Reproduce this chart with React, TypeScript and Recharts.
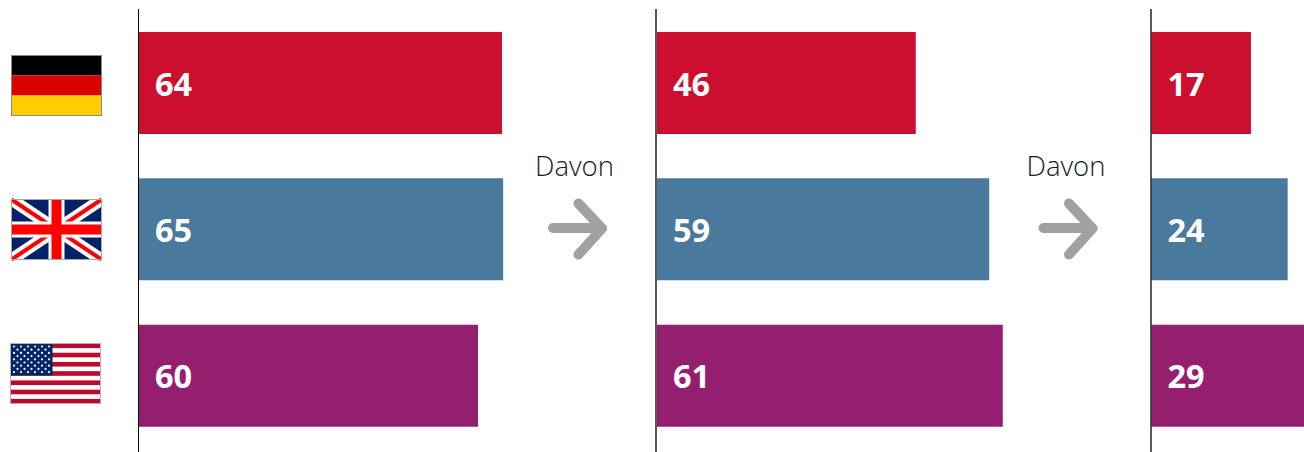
import React from "react";
import { BarChart, Bar, XAxis, YAxis, Cell, LabelList } from "recharts";

const countries = ["Deutschland", "Großbritannien", "USA"];
const colors = ["#CC0F2E", "#4A799E", "#951F6F"];
const stageOneValues = [64.25, 64.45, 60];
const stageOneLabels = ["64", "65", "60"];
const stageTwoValues = [45.8, 58.8, 61.2];
const stageTwoLabels = ["46", "59", "61"];
const stageThreeValues = [17.6, 24.1, 29];
const stageThreeLabels = ["17", "24", "29"];
const connectorLabel = "Davon";

const AXIS_MAX = 70;
const PX_PER_UNIT = 5.65;
const FONT = "'Open Sans', sans-serif";

const rows = (values: number[], labels: string[]) =>
  countries.map((country, i) => ({ country, value: values[i], label: labels[i] }));

function Germany({ x, y }: { x: number; y: number }) {
  return (
    <g transform={`translate(${x},${y})`}>
      <rect width={90} height={20} fill="#000000" />
      <rect y={20} width={90} height={20} fill="#DD0000" />
      <rect y={40} width={90} height={20} fill="#FFCE00" />
      <rect x={0} y={0} width={90} height={60} fill="none" stroke="#8A8A8A" strokeWidth={1} />
    </g>
  );
}

function UnitedKingdom({ x, y }: { x: number; y: number }) {
  return (
    <g transform={`translate(${x},${y})`}>
      <rect width={90} height={60} fill="#012169" />
      <path d="M0 0L90 60M90 0L0 60" stroke="#FFFFFF" strokeWidth={12} />
      <path d="M0 0L90 60M90 0L0 60" stroke="#FF0000" strokeWidth={4} />
      <rect x={37} width={16} height={60} fill="#FFFFFF" />
      <rect y={22} width={90} height={16} fill="#FFFFFF" />
      <rect x={40} width={10} height={60} fill="#FF0000" />
      <rect y={25} width={90} height={10} fill="#FF0000" />
      <rect width={90} height={60} fill="none" stroke="#A8A8A8" strokeWidth={1} />
    </g>
  );
}

function UnitedStates({ x, y }: { x: number; y: number }) {
  const stripes = Array.from({ length: 13 }, (_, i) => i);
  const stars: React.ReactNode[] = [];
  for (let r = 0; r < 9; r++) {
    const n = r % 2 === 0 ? 6 : 5;
    for (let c = 0; c < n; c++) {
      stars.push(
        <circle
          key={`${r}-${c}`}
          cx={(r % 2 === 0 ? 3.5 : 7) + c * 7}
          cy={3 + r * 3.2}
          r={1.1}
          fill="#FFFFFF"
        />
      );
    }
  }
  return (
    <g transform={`translate(${x},${y})`}>
      <rect width={90} height={60} fill="#FFFFFF" />
      {stripes.filter((i) => i % 2 === 0).map((i) => (
        <rect key={i} y={(i * 60) / 13} width={90} height={60 / 13} fill="#BF0A30" />
      ))}
      <rect width={42} height={32} fill="#002868" />
      {stars}
      <rect width={90} height={60} fill="none" stroke="#B0B0B0" strokeWidth={1} />
    </g>
  );
}

const FlagTick = (props: any) => {
  const name = props.payload?.value;
  if (name === countries[0]) return <Germany x={11.5} y={55.5} />;
  if (name === countries[1]) return <UnitedKingdom x={11.5} y={199.5} />;
  return <UnitedStates x={10.5} y={343.5} />;
};

function Stage({
  values,
  labels,
  left,
  axisWidth,
  barStartPad,
  lineWidth,
  flags,
}: {
  values: number[];
  labels: string[];
  left: number;
  axisWidth: number;
  barStartPad: number;
  lineWidth: number;
  flags?: boolean;
}) {
  return (
    <div style={{ position: "absolute", left, top: 0 }}>
      <BarChart
        width={axisWidth + barStartPad + AXIS_MAX * PX_PER_UNIT}
        height={452}
        layout="vertical"
        data={rows(values, labels)}
        margin={{ top: 9, right: 0, bottom: 0, left: 0 }}
      >
        <XAxis type="number" hide domain={[0, AXIS_MAX]} padding={{ left: barStartPad, right: 0 }} />
        <YAxis
          type="category"
          dataKey="country"
          width={axisWidth}
          padding={{ top: 1, bottom: 3 }}
          axisLine={{ stroke: "#000000", strokeWidth: lineWidth }}
          tickLine={false}
          tick={flags ? FlagTick : false}
          interval={0}
        />
        <Bar dataKey="value" barSize={102} isAnimationActive={false}>
          {colors.map((c) => (
            <Cell key={c} fill={c} />
          ))}
          <LabelList
            dataKey="label"
            position="insideLeft"
            offset={16}
            dy={1}
            fill="#FFFFFF"
            style={{ fontFamily: FONT, fontSize: 32.5, fontWeight: 700 }}
          />
        </Bar>
      </BarChart>
    </div>
  );
}

function Connector({ textX, arrowX }: { textX: number; arrowX: number }) {
  return (
    <g>
      <text
        x={textX}
        y={176}
        textAnchor="middle"
        fontFamily={FONT}
        fontSize={27.5}
        fontWeight={300}
        fill="#1A1A1A"
      >
        {connectorLabel}
      </text>
      <path
        transform={`translate(${arrowX},0)`}
        d="M-21.5 228H26M4 203.5L27.5 228.5L4 254.5"
        fill="none"
        stroke="#A0A29F"
        strokeWidth={10}
        strokeLinecap="round"
        strokeLinejoin="round"
      />
    </g>
  );
}

export default function App() {
  return (
    <div
      style={{
        position: "absolute",
        left: 0,
        top: 0,
        width: 1304,
        height: 452,
        overflow: "hidden",
        background: "#FFFFFF",
      }}
    >
      <Stage values={stageOneValues} labels={stageOneLabels} left={0} axisWidth={138.5} barStartPad={0.5} lineWidth={1} flags />
      <Stage values={stageTwoValues} labels={stageTwoLabels} left={655} axisWidth={1} barStartPad={1} lineWidth={1.3} />
      <Stage values={stageThreeValues} labels={stageThreeLabels} left={1150} axisWidth={1} barStartPad={0.5} lineWidth={1.3} />
      <svg width={1304} height={452} style={{ position: "absolute", left: 0, top: 0, pointerEvents: "none" }}>
        <Connector textX={574.5} arrowX={574.5} />
        <Connector textX={1066} arrowX={1065} />
      </svg>
    </div>
  );
}
